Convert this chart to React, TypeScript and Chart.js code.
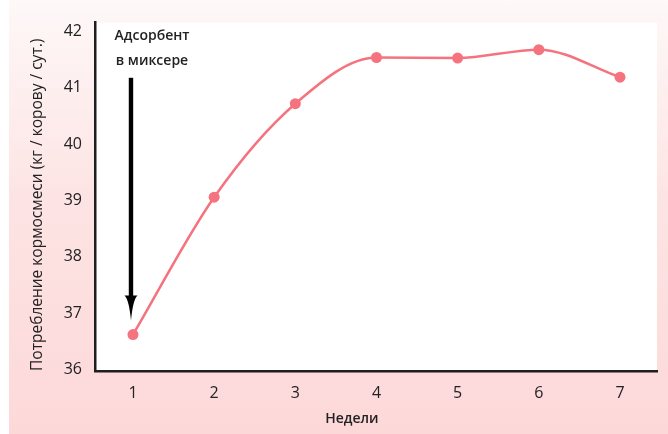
import React, { useEffect, useRef } from "react";
import { Chart, registerables } from "chart.js";

Chart.register(...registerables);

// ---- data ----
const WEEKS = [1, 2, 3, 4, 5, 6, 7];
const INTAKE = [36.62, 39.06, 40.72, 41.54, 41.53, 41.68, 41.19];
const Y_TICKS = [36, 37, 38, 39, 40, 41, 42];
const X_TITLE = "Недели";
const Y_TITLE = "Потребление кормосмеси (кг / корову / сут.)";
const NOTE_LINES = ["Адсорбент", "в миксере"];
const ARROW_WEEK = 1;
const ARROW_FROM = 41.18;
const ARROW_TO = 36.87;

const FONT = "'Open Sans', 'Noto Sans', sans-serif";
const TEXT = "#222222";
const LINE = "#f4737f";

const plotBg = {
  id: "plotBg",
  beforeDraw(chart: any) {
    const { ctx, chartArea } = chart;
    const { left, top, right, bottom } = chartArea;
    ctx.save();
    ctx.fillStyle = "#ffffff";
    ctx.fillRect(left, top, right - left, bottom - top);
    ctx.restore();
  },
};

const annotations = {
  id: "annotations",
  afterDraw(chart: any) {
    const { ctx, chartArea, scales } = chart;
    const x = scales.x.getPixelForValue(ARROW_WEEK) - 2;
    const yTop = scales.y.getPixelForValue(ARROW_FROM);
    const yTip = scales.y.getPixelForValue(ARROW_TO);
    const headLen = 25;
    const headHalf = 6.5;
    ctx.save();
    ctx.fillStyle = "#000000";
    ctx.fillRect(x - 2.2, yTop, 4.4, yTip - headLen - yTop + 2);
    ctx.beginPath();
    ctx.moveTo(x - headHalf, yTip - headLen);
    ctx.quadraticCurveTo(x - 2, yTip - headLen + 4, x, yTip);
    ctx.quadraticCurveTo(x + 2, yTip - headLen + 4, x + headHalf, yTip - headLen);
    ctx.closePath();
    ctx.fill();

    // note text
    ctx.fillStyle = TEXT;
    ctx.font = `600 14px ${FONT}`;
    ctx.textAlign = "center";
    ctx.textBaseline = "middle";
    ctx.fillText(NOTE_LINES[0], x + 21, yTop - 42);
    ctx.fillText(NOTE_LINES[1], x + 21, yTop - 17);

    // x title
    const { left, right, top, bottom } = chartArea;
    ctx.font = `600 14px ${FONT}`;
    ctx.fillText(X_TITLE, left + (right - left) * 0.457, bottom + 48);

    // y title
    ctx.translate(38, (top + bottom) / 2 + 8);
    ctx.rotate(-Math.PI / 2);
    ctx.font = `15.5px ${FONT}`;
    ctx.fillText(Y_TITLE, 0, 0);
    ctx.restore();
  },
};

export default function App() {
  const ref = useRef<HTMLCanvasElement | null>(null);

  useEffect(() => {
    if (!ref.current) return;
    const chart = new Chart(ref.current, {
      type: "line",
      data: {
        datasets: [
          {
            data: WEEKS.map((w, i) => ({ x: w, y: INTAKE[i] })),
            borderColor: LINE,
            backgroundColor: LINE,
            borderWidth: 2.5,
            pointRadius: 5.5,
            pointBackgroundColor: LINE,
            pointBorderWidth: 0,
            cubicInterpolationMode: "monotone",
            fill: false,
          },
        ],
      },
      options: {
        responsive: false,
        animation: false,
        layout: { padding: { top: 22, right: 11, left: 0, bottom: 0 } },
        plugins: {
          legend: { display: false },
          tooltip: { enabled: false },
        },
        scales: {
          x: {
            type: "linear",
            min: 0.532,
            max: 7.456,
            afterFit: (s: any) => {
              s.height = 63;
            },
            afterBuildTicks: (s: any) => {
              s.ticks = WEEKS.map((w) => ({ value: w }));
            },
            grid: { color: "rgba(0,0,0,0)", drawTicks: false },
            border: { color: "#1e1e1e", width: 2.5 },
            ticks: {
              color: TEXT,
              font: { family: FONT, size: 16, weight: "500" },
              padding: 13,
              callback: (v: any) => String(v),
            },
          },
          y: {
            min: 35.973,
            max: 42.16,
            afterFit: (s: any) => {
              s.width = 95;
            },
            afterBuildTicks: (s: any) => {
              s.ticks = Y_TICKS.map((t) => ({ value: t }));
            },
            grid: { color: "rgba(0,0,0,0)", drawTicks: false },
            border: { color: "#1e1e1e", width: 2.5 },
            ticks: {
              color: TEXT,
              font: { family: FONT, size: 16, weight: "500" },
              padding: 13,
              callback: (v: any) => String(v),
            },
          },
        },
      },
      plugins: [plotBg, annotations],
    });
    return () => chart.destroy();
  }, []);

  return (
    <div
      style={{
        position: "absolute",
        left: 0,
        top: 0,
        width: 668,
        height: 434,
        background: "#ffffff",
      }}
    >
      <div
        style={{
          position: "absolute",
          left: 9,
          top: 0,
          right: 0,
          bottom: 0,
          background: "linear-gradient(to bottom, #fef8f8 0%, #fde4e4 45%, #fdd8d9 100%)",
        }}
      />
      <canvas
        ref={ref}
        width={668}
        height={434}
        style={{ position: "absolute", left: 0, top: 0, width: 668, height: 434 }}
      />
    </div>
  );
}
